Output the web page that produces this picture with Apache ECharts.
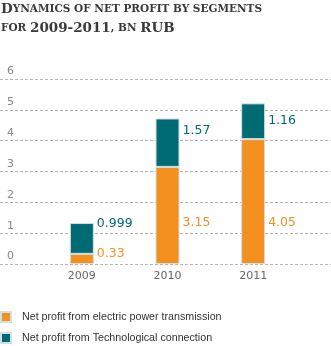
<!DOCTYPE html>
<html><head><meta charset="utf-8">
<script src="https://cdn.jsdelivr.net/npm/echarts@6/dist/echarts.min.js"></script>
<style>html,body{margin:0;padding:0;background:#fff}#c{width:331px;height:346px}</style>
</head><body><div id="c"></div>
<script>
var years = ['2009', '2010', '2011'];
var transmission = [0.33, 3.15, 4.05];
var technological = [0.999, 1.57, 1.16];
var transmissionLabels = ['0.33', '3.15', '4.05'];
var technologicalLabels = ['0.999', '1.57', '1.16'];
var seriesNames = ['Net profit from electric power transmission', 'Net profit from Technological connection'];

var ORANGE = '#f39020', TEAL = '#006b73';
var orangeOffsetY = [-5, 7, 21];
var tealOffsetY = [-15, -12, 0];

var chart = echarts.init(document.getElementById('c'), null, {renderer: 'canvas'});
var TOP = 79, BOTTOM = 82;
var serifFont = 'DejaVu Serif';
var big = {fontFamily: serifFont, fontWeight: 'bold', fontSize: 13.5, color: '#3a3a3a', lineHeight: 19};
var small = {fontFamily: serifFont, fontWeight: 'bold', fontSize: 10.5, color: '#3a3a3a', lineHeight: 19};
var legendText = {fontFamily: 'Liberation Sans', fontSize: 10.7, color: '#333', padding: [0, 0, 0, 6]};

chart.setOption({
  animation: false,
  title: {
    left: 1, top: 0, padding: 0,
    text: '{b|D}{s|YNAMICS OF NET PROFIT BY SEGMENTS}\n{s|FOR }{b|2009-2011}{s|, BN }{b|RUB}',
    textStyle: {fontFamily: serifFont, fontWeight: 'bold', rich: {b: big, s: small}}
  },
  legend: [
    {left: 0, top: 311, padding: 0, icon: 'rect', itemWidth: 10, itemHeight: 10,
     data: [seriesNames[0]], textStyle: legendText},
    {left: 0, top: 332, padding: 0, icon: 'rect', itemWidth: 10, itemHeight: 10,
     data: [seriesNames[1]], textStyle: legendText}
  ],
  grid: [
    {left: 0, right: 0, top: TOP, bottom: BOTTOM},
    {left: 39, right: 35, top: TOP, bottom: BOTTOM}
  ],
  xAxis: [
    {gridIndex: 0, type: 'category', data: years, show: false},
    {gridIndex: 1, type: 'category', data: years,
     axisLine: {show: false}, axisTick: {show: false},
     axisLabel: {color: '#666', fontSize: 11, fontFamily: 'DejaVu Sans', margin: 7}}
  ],
  yAxis: [
    {gridIndex: 0, type: 'value', min: 0, max: 6, interval: 1,
     axisLine: {show: false}, axisTick: {show: false},
     splitLine: {lineStyle: {type: [3, 2], color: '#b5b5b5', width: 1}},
     axisLabel: {inside: true, margin: 7, verticalAlign: 'bottom', padding: [0, 0, 2, 0], color: '#888', fontSize: 11, fontFamily: 'DejaVu Sans'}},
    {gridIndex: 1, type: 'value', min: 0, max: 6, interval: 1, show: false}
  ],
  series: [
    {
      name: seriesNames[0], type: 'bar', stack: 'a', xAxisIndex: 1, yAxisIndex: 1,
      barWidth: 24, color: ORANGE,
      itemStyle: {color: ORANGE, borderColor: '#d3dfe2', borderWidth: 1},
      data: transmission.map(function (v, i) {
        return {value: v, label: {offset: [0, orangeOffsetY[i]], formatter: transmissionLabels[i]}};
      }),
      label: {show: true, position: 'right', distance: 3, color: ORANGE, fontSize: 12.5, fontFamily: 'DejaVu Sans'}
    },
    {
      name: seriesNames[1], type: 'bar', stack: 'a', xAxisIndex: 1, yAxisIndex: 1,
      barWidth: 24, color: TEAL,
      itemStyle: {color: TEAL, borderColor: '#d3dfe2', borderWidth: 1},
      data: technological.map(function (v, i) {
        return {value: v, label: {offset: [0, tealOffsetY[i]], formatter: technologicalLabels[i]}};
      }),
      label: {show: true, position: 'right', distance: 3, color: TEAL, fontSize: 12.5, fontFamily: 'DejaVu Sans'}
    }
  ]
});
</script></body></html>
